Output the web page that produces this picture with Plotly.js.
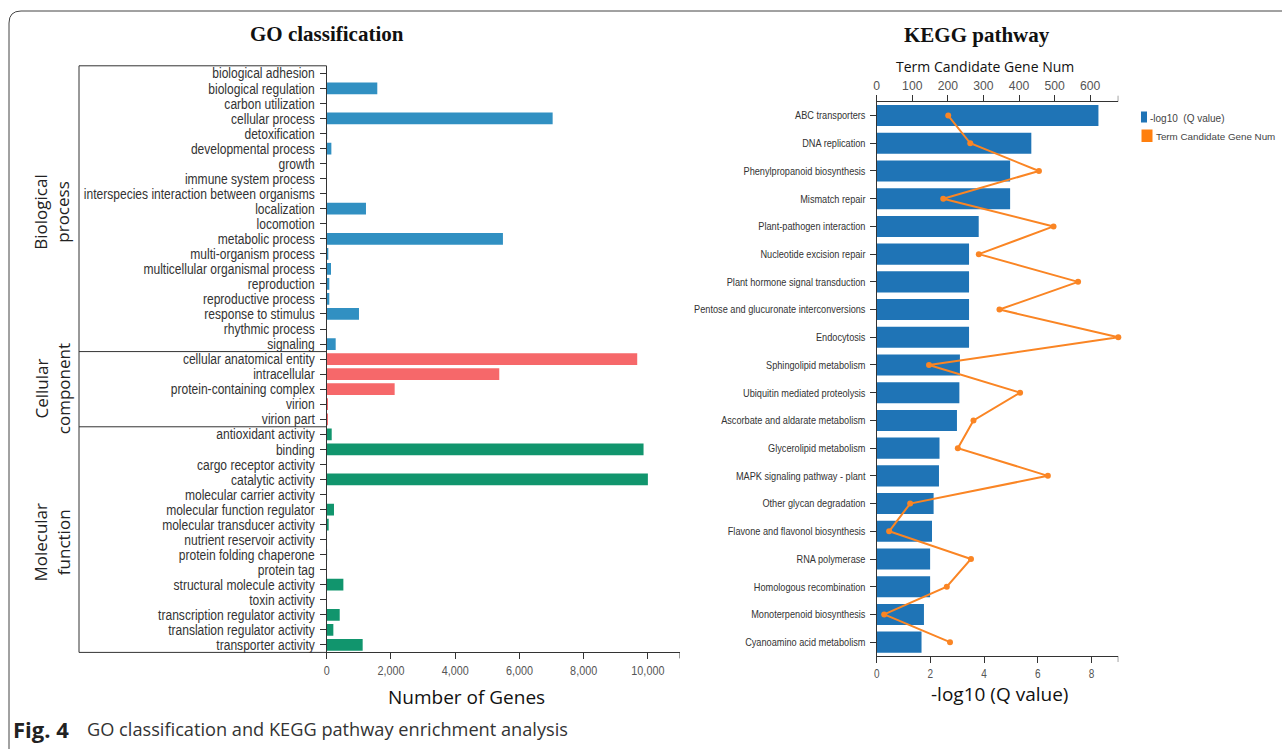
<!DOCTYPE html>
<html>
<head>
<meta charset="utf-8">
<script src="https://cdn.plot.ly/plotly-3.0.1.min.js"></script>
<style>
  html, body { margin: 0; padding: 0; background: #fff; }
  #fig { width: 1282px; height: 749px; }
</style>
</head>
<body>
<div id="fig"></div>
<script>
// ---- GO classification: gene counts per term, by ontology ----
const bpTerms = [
  "biological adhesion", "biological regulation", "carbon utilization", "cellular process",
  "detoxification", "developmental process", "growth", "immune system process",
  "interspecies interaction between organisms", "localization", "locomotion",
  "metabolic process", "multi-organism process", "multicellular organismal process",
  "reproduction", "reproductive process", "response to stimulus", "rhythmic process", "signaling"
];
const bpCounts = [6, 1575, 3, 7035, 12, 145, 6, 5, 8, 1223, 4, 5487, 50, 134, 81, 81, 1005, 5, 280];

const ccTerms = ["cellular anatomical entity", "intracellular", "protein-containing complex", "virion", "virion part"];
const ccCounts = [9668, 5373, 2116, 40, 40];

const mfTerms = [
  "antioxidant activity", "binding", "cargo receptor activity", "catalytic activity",
  "molecular carrier activity", "molecular function regulator", "molecular transducer activity",
  "nutrient reservoir activity", "protein folding chaperone", "protein tag",
  "structural molecule activity", "toxin activity", "transcription regulator activity",
  "translation regulator activity", "transporter activity"
];
const mfCounts = [156, 9865, 4, 10000, 4, 227, 62, 10, 12, 2, 519, 3, 405, 207, 1120];

const groupNames = ["Biological<br>process", "Cellular<br>component", "Molecular<br>function"];
const goTicks = [0, 2000, 4000, 6000, 8000, 10000];

// ---- KEGG pathway enrichment ----
const keggPathways = [
  "ABC transporters", "DNA replication", "Phenylpropanoid biosynthesis", "Mismatch repair",
  "Plant-pathogen interaction", "Nucleotide excision repair", "Plant hormone signal transduction",
  "Pentose and glucuronate interconversions", "Endocytosis", "Sphingolipid metabolism",
  "Ubiquitin mediated proteolysis", "Ascorbate and aldarate metabolism", "Glycerolipid metabolism",
  "MAPK signaling pathway - plant", "Other glycan degradation", "Flavone and flavonol biosynthesis",
  "RNA polymerase", "Homologous recombination", "Monoterpenoid biosynthesis", "Cyanoamino acid metabolism"
];
const keggNegLogQ = [8.26, 5.76, 4.97, 4.97, 3.80, 3.44, 3.44, 3.44, 3.44, 3.10,
                     3.08, 2.99, 2.34, 2.32, 2.12, 2.06, 1.99, 1.99, 1.76, 1.67];
const keggGeneNum = [201, 263, 456, 187, 497, 287, 566, 345, 679, 147,
                     403, 272, 228, 481, 94, 35, 265, 197, 21, 206];
const legendLabels = ["-log10  (Q value)", "Term Candidate Gene Num"];

// ---- page geometry helpers (pixels -> paper fractions) ----
const W = 1282, H = 749;
const fx = p => p / W;
const fy = p => 1 - p / H;

const LABEL = "'Liberation Sans', Arial, sans-serif";
const SANS = "'Open Sans', 'Noto Sans', sans-serif";
const SERIF = "'Liberation Serif', 'Times New Roman', serif";
const CONDENSE = 0.82;   // horizontal squeeze for axis tick labels (narrow-face look)

const COL_BP = "#3190c2", COL_CC = "#f6686a", COL_MF = "#11956d";
const COL_BAR = "#1f74b6", COL_LINE = "#fa8524";

// GO plot area
const goLeft = 326.7, goRight = 680, goTop = 65.8, goBottom = 652.4, boxLeft = 79;
// KEGG plot area
const kLeft = 876.7, kRight = 1118.3, kTop = 101.7, kBottom = 656;

const allGoTerms = bpTerms.concat(ccTerms, mfTerms);
const goMax = Math.max(...bpCounts, ...ccCounts, ...mfCounts) * 1.1;
const geneMax = Math.max(...keggGeneNum);

function goBar(terms, counts, color) {
  return {
    type: "bar", orientation: "h", y: terms, x: counts,
    xaxis: "x", yaxis: "y", width: 0.78,
    marker: { color: color, line: { width: 0 } },
    hoverinfo: "skip", showlegend: false
  };
}

const traces = [
  goBar(bpTerms, bpCounts, COL_BP),
  goBar(ccTerms, ccCounts, COL_CC),
  goBar(mfTerms, mfCounts, COL_MF),
  {
    type: "bar", orientation: "h", y: keggPathways, x: keggNegLogQ,
    xaxis: "x2", yaxis: "y2", width: 0.76,
    marker: { color: COL_BAR, line: { width: 0 } },
    name: legendLabels[0], hoverinfo: "skip", showlegend: false
  },
  {
    type: "scatter", mode: "lines+markers", y: keggPathways, x: keggGeneNum,
    xaxis: "x3", yaxis: "y2", cliponaxis: false,
    line: { color: COL_LINE, width: 2 },
    marker: { color: COL_LINE, size: 6 },
    name: legendLabels[1], hoverinfo: "skip", showlegend: false
  }
];

// group brackets around the GO category labels
const rowH = (goBottom - goTop) / allGoTerms.length;
const sep1 = goTop + bpTerms.length * rowH;
const sep2 = sep1 + ccTerms.length * rowH;
const lineStyle = { color: "#333", width: 1 };
function hLine(x0, x1, y) {
  return { type: "line", xref: "paper", yref: "paper", x0: fx(x0), x1: fx(x1), y0: fy(y), y1: fy(y), line: lineStyle };
}
const shapes = [
  { type: "line", xref: "paper", yref: "paper", x0: fx(boxLeft), x1: fx(boxLeft), y0: fy(goTop), y1: fy(goBottom), line: lineStyle },
  hLine(boxLeft, goLeft, goTop),
  hLine(boxLeft, goLeft, sep1),
  hLine(boxLeft, goLeft, sep2),
  hLine(boxLeft, goLeft, goBottom),
  // axis end ticks
  { type: "line", xref: "x", yref: "paper", x0: goMax, x1: goMax, y0: fy(goBottom), y1: fy(goBottom + 6), line: lineStyle },
  { type: "line", xref: "x2", yref: "paper", x0: 9, x1: 9, y0: fy(kBottom), y1: fy(kBottom + 6), line: lineStyle },
  { type: "line", xref: "x3", yref: "paper", x0: geneMax, x1: geneMax, y0: fy(kTop), y1: fy(kTop - 6), line: lineStyle },
  // legend swatches
  { type: "rect", xref: "paper", yref: "paper", x0: fx(1141), x1: fx(1147), y0: fy(122.5), y1: fy(111.5), fillcolor: COL_BAR, line: { width: 0 } },
  { type: "rect", xref: "paper", yref: "paper", x0: fx(1141.5), x1: fx(1152.5), y0: fy(142), y1: fy(129.5), fillcolor: "#ff7f0e", line: { width: 0 } },
  // figure frame (rounded top-left corner)
  {
    type: "path", xref: "paper", yref: "paper",
    path: `M ${fx(9)},${fy(749)} L ${fx(9)},${fy(23)} Q ${fx(9)},${fy(11)} ${fx(21)},${fy(11)} L ${fx(1282)},${fy(11)}`,
    line: { color: "#444", width: 1 }
  }
];

function ann(text, x, y, opts) {
  return Object.assign({
    text: text, xref: "paper", yref: "paper", x: fx(x), y: fy(y),
    showarrow: false, xanchor: "center", yanchor: "middle"
  }, opts || {});
}

const groupFont = { family: SANS, size: 17, color: "#222" };
const annotations = [
  ann("<b>GO classification</b>", 327, 34, { font: { family: SERIF, size: 21, color: "#111" } }),
  ann("<b>KEGG pathway</b>", 977, 35, { font: { family: SERIF, size: 21, color: "#111" } }),
  ann(groupNames[0], 52, (goTop + sep1) / 2 + 4, { textangle: -90, font: groupFont }),
  ann(groupNames[1], 52, (sep1 + sep2) / 2, { textangle: -90, font: groupFont }),
  ann(groupNames[2], 52, (sep2 + goBottom) / 2 + 3, { textangle: -90, font: groupFont }),
  ann("Number of Genes", 466, 697, { font: { family: SANS, size: 19, color: "#111" } }),
  ann("Term Candidate Gene Num", 985, 67, { font: { family: SANS, size: 14, color: "#111" } }),
  ann("-log10 (Q value)", 999, 694, { font: { family: SANS, size: 19, color: "#111" } }),
  ann(legendLabels[0], 1147.5, 118, { xanchor: "left", font: { family: LABEL, size: 10, color: "#444" } }),
  ann(legendLabels[1], 1154, 137, { xanchor: "left", font: { family: LABEL, size: 9.8, color: "#444" } }),
  ann("<b>Fig. 4</b>", 11, 729, { xanchor: "left", font: { family: SANS, size: 22, color: "#222" } }),
  ann("GO classification and KEGG pathway enrichment analysis", 85, 729, { xanchor: "left", font: { family: SANS, size: 18.2, color: "#333" } })
];

const axisCommon = {
  showline: true, linecolor: "#333", linewidth: 1,
  ticks: "outside", ticklen: 6, tickcolor: "#333", tickwidth: 1,
  showgrid: false, zeroline: false, fixedrange: true
};

const layout = {
  width: W, height: H,
  margin: { l: 0, r: 0, t: 0, b: 0, pad: 0 },
  paper_bgcolor: "#fff", plot_bgcolor: "rgba(0,0,0,0)",
  barmode: "overlay", showlegend: false,
  xaxis: Object.assign({}, axisCommon, {
    domain: [fx(goLeft), fx(goRight)], anchor: "y", range: [0, goMax],
    tickvals: goTicks, ticktext: goTicks.map(v => v.toLocaleString("en-US")),
    tickfont: { family: LABEL, size: 13.2, color: "#555" }
  }),
  yaxis: Object.assign({}, axisCommon, {
    domain: [fy(goBottom), fy(goTop)], anchor: "x", type: "category",
    categoryorder: "array", categoryarray: allGoTerms,
    range: [allGoTerms.length - 0.5, -0.5],
    tickmode: "array", tickvals: allGoTerms, ticktext: allGoTerms,
    tickfont: { family: LABEL, size: 14.7, color: "#333" }, ticklabelstandoff: 2
  }),
  xaxis2: Object.assign({}, axisCommon, {
    domain: [fx(kLeft), fx(kRight)], anchor: "y2", range: [0, 9], dtick: 2, tick0: 0,
    tickfont: { family: LABEL, size: 12.2, color: "#555" }
  }),
  xaxis3: Object.assign({}, axisCommon, {
    overlaying: "x2", anchor: "y2", side: "top", range: [0, geneMax], dtick: 100, tick0: 0,
    tickfont: { family: LABEL, size: 12.2, color: "#555" }
  }),
  yaxis2: Object.assign({}, axisCommon, {
    domain: [fy(kBottom), fy(kTop)], anchor: "x2", type: "category",
    categoryorder: "array", categoryarray: keggPathways,
    range: [keggPathways.length - 0.5, -0.5],
    tickmode: "array", tickvals: keggPathways, ticktext: keggPathways,
    tickfont: { family: LABEL, size: 11.2, color: "#333" }, ticklabelstandoff: 2
  }),
  shapes: shapes,
  annotations: annotations
};

Plotly.newPlot("fig", traces, layout, { staticPlot: true, displayModeBar: false }).then(gd => {
  // squeeze tick labels horizontally so they read like a narrow typeface
  gd.querySelectorAll(".xaxislayer-above text, .yaxislayer-above text").forEach(t => {
    const w = t.getComputedTextLength();
    if (w > 0) {
      t.setAttribute("textLength", (w * CONDENSE).toFixed(2));
      t.setAttribute("lengthAdjust", "spacingAndGlyphs");
    }
  });
});
</script>
</body>
</html>
